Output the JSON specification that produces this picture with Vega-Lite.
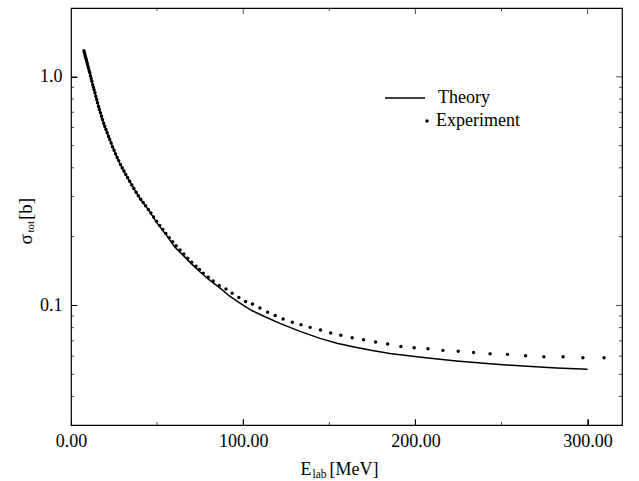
{
  "$schema": "https://vega.github.io/schema/vega-lite/v6.json",
  "autosize": {"type": "none"},
  "padding": {"left": 71, "top": 8, "right": 17, "bottom": 56},
  "width": 551,
  "height": 417,
  "background": "white",
  "config": {
    "view": {"stroke": "black", "strokeWidth": 1.2},
    "axis": {
      "grid": false,
      "domainOpacity": 0,
      "labelFont": "Liberation Serif",
      "titleFont": "Liberation Serif",
      "labelFontSize": 18,
      "titleFontSize": 19,
      "titleFontWeight": "normal",
      "labelColor": "black",
      "titleColor": "black",
      "tickColor": "black"
    },
    "legend": {
      "labelFont": "Liberation Serif",
      "labelFontSize": 18,
      "labelColor": "black",
      "padding": 0
    }
  },
  "datasets": {
    "yticks": [
      {"v": 0.04, "kind": "minor"}, {"v": 0.05, "kind": "minor"}, {"v": 0.06, "kind": "minor"},
      {"v": 0.07, "kind": "minor"}, {"v": 0.08, "kind": "minor"}, {"v": 0.09, "kind": "minor"},
      {"v": 0.1, "kind": "major"}, {"v": 0.2, "kind": "minor"}, {"v": 0.3, "kind": "minor"},
      {"v": 0.4, "kind": "minor"}, {"v": 0.5, "kind": "minor"}, {"v": 0.6, "kind": "minor"},
      {"v": 0.7, "kind": "minor"}, {"v": 0.8, "kind": "minor"}, {"v": 0.9, "kind": "minor"},
      {"v": 1, "kind": "major"}
    ],
    "xticks": [
      {"v": 50, "kind": "minor"}, {"v": 100, "kind": "major"}, {"v": 150, "kind": "minor"},
      {"v": 200, "kind": "major"}, {"v": 250, "kind": "minor"}, {"v": 300, "kind": "major"}
    ],
    "theory": [
      {"E": 8, "sigma": 1.255, "series": "Theory"},
      {"E": 9, "sigma": 1.18, "series": "Theory"},
      {"E": 10, "sigma": 1.10, "series": "Theory"},
      {"E": 11, "sigma": 1.035, "series": "Theory"},
      {"E": 12, "sigma": 0.96, "series": "Theory"},
      {"E": 13, "sigma": 0.90, "series": "Theory"},
      {"E": 14, "sigma": 0.846, "series": "Theory"},
      {"E": 16, "sigma": 0.742, "series": "Theory"},
      {"E": 18, "sigma": 0.66, "series": "Theory"},
      {"E": 20, "sigma": 0.595, "series": "Theory"},
      {"E": 22.5, "sigma": 0.532, "series": "Theory"},
      {"E": 25, "sigma": 0.477, "series": "Theory"},
      {"E": 28, "sigma": 0.423, "series": "Theory"},
      {"E": 31, "sigma": 0.384, "series": "Theory"},
      {"E": 34, "sigma": 0.35, "series": "Theory"},
      {"E": 37, "sigma": 0.32, "series": "Theory"},
      {"E": 40, "sigma": 0.294, "series": "Theory"},
      {"E": 45, "sigma": 0.262, "series": "Theory"},
      {"E": 50, "sigma": 0.229, "series": "Theory"},
      {"E": 55, "sigma": 0.205, "series": "Theory"},
      {"E": 60, "sigma": 0.181, "series": "Theory"},
      {"E": 65, "sigma": 0.166, "series": "Theory"},
      {"E": 70, "sigma": 0.152, "series": "Theory"},
      {"E": 75, "sigma": 0.14, "series": "Theory"},
      {"E": 80, "sigma": 0.13, "series": "Theory"},
      {"E": 86.6, "sigma": 0.119, "series": "Theory"},
      {"E": 92, "sigma": 0.11, "series": "Theory"},
      {"E": 98.1, "sigma": 0.1024, "series": "Theory"},
      {"E": 105, "sigma": 0.095, "series": "Theory"},
      {"E": 113, "sigma": 0.089, "series": "Theory"},
      {"E": 121.3, "sigma": 0.0835, "series": "Theory"},
      {"E": 133, "sigma": 0.077, "series": "Theory"},
      {"E": 144.6, "sigma": 0.0718, "series": "Theory"},
      {"E": 155, "sigma": 0.0682, "series": "Theory"},
      {"E": 165.9, "sigma": 0.0655, "series": "Theory"},
      {"E": 175, "sigma": 0.0635, "series": "Theory"},
      {"E": 185.2, "sigma": 0.0617, "series": "Theory"},
      {"E": 204.5, "sigma": 0.0592, "series": "Theory"},
      {"E": 223.9, "sigma": 0.0572, "series": "Theory"},
      {"E": 243.3, "sigma": 0.0556, "series": "Theory"},
      {"E": 262.6, "sigma": 0.0543, "series": "Theory"},
      {"E": 282, "sigma": 0.0533, "series": "Theory"},
      {"E": 300, "sigma": 0.0526, "series": "Theory"}
    ],
    "expt": [
      {"E": 7.5, "sigma": 1.3, "series": "Experiment"},
      {"E": 7.76, "sigma": 1.277, "series": "Experiment"},
      {"E": 8.03, "sigma": 1.254, "series": "Experiment"},
      {"E": 8.31, "sigma": 1.231, "series": "Experiment"},
      {"E": 8.6, "sigma": 1.209, "series": "Experiment"},
      {"E": 8.9, "sigma": 1.187, "series": "Experiment"},
      {"E": 9.22, "sigma": 1.162, "series": "Experiment"},
      {"E": 9.54, "sigma": 1.137, "series": "Experiment"},
      {"E": 9.87, "sigma": 1.111, "series": "Experiment"},
      {"E": 10.2, "sigma": 1.087, "series": "Experiment"},
      {"E": 10.6, "sigma": 1.06, "series": "Experiment"},
      {"E": 10.9, "sigma": 1.041, "series": "Experiment"},
      {"E": 11.3, "sigma": 1.012, "series": "Experiment"},
      {"E": 11.7, "sigma": 0.983, "series": "Experiment"},
      {"E": 12.1, "sigma": 0.956, "series": "Experiment"},
      {"E": 12.6, "sigma": 0.924, "series": "Experiment"},
      {"E": 13.0, "sigma": 0.9, "series": "Experiment"},
      {"E": 13.4, "sigma": 0.878, "series": "Experiment"},
      {"E": 13.9, "sigma": 0.851, "series": "Experiment"},
      {"E": 14.4, "sigma": 0.823, "series": "Experiment"},
      {"E": 14.9, "sigma": 0.796, "series": "Experiment"},
      {"E": 15.4, "sigma": 0.771, "series": "Experiment"},
      {"E": 16.0, "sigma": 0.742, "series": "Experiment"},
      {"E": 16.5, "sigma": 0.72, "series": "Experiment"},
      {"E": 17.1, "sigma": 0.696, "series": "Experiment"},
      {"E": 17.7, "sigma": 0.672, "series": "Experiment"},
      {"E": 18.3, "sigma": 0.651, "series": "Experiment"},
      {"E": 19.0, "sigma": 0.627, "series": "Experiment"},
      {"E": 19.6, "sigma": 0.608, "series": "Experiment"},
      {"E": 20.3, "sigma": 0.588, "series": "Experiment"},
      {"E": 21.0, "sigma": 0.569, "series": "Experiment"},
      {"E": 21.8, "sigma": 0.548, "series": "Experiment"},
      {"E": 22.5, "sigma": 0.532, "series": "Experiment"},
      {"E": 23.3, "sigma": 0.513, "series": "Experiment"},
      {"E": 24.1, "sigma": 0.495, "series": "Experiment"},
      {"E": 25.0, "sigma": 0.477, "series": "Experiment"},
      {"E": 25.9, "sigma": 0.46, "series": "Experiment"},
      {"E": 26.8, "sigma": 0.444, "series": "Experiment"},
      {"E": 27.7, "sigma": 0.43, "series": "Experiment"},
      {"E": 28.7, "sigma": 0.414, "series": "Experiment"},
      {"E": 29.7, "sigma": 0.4, "series": "Experiment"},
      {"E": 30.7, "sigma": 0.3875, "series": "Experiment"},
      {"E": 31.8, "sigma": 0.374, "series": "Experiment"},
      {"E": 32.9, "sigma": 0.3615, "series": "Experiment"},
      {"E": 34.1, "sigma": 0.349, "series": "Experiment"},
      {"E": 35.3, "sigma": 0.3365, "series": "Experiment"},
      {"E": 36.5, "sigma": 0.325, "series": "Experiment"},
      {"E": 37.8, "sigma": 0.313, "series": "Experiment"},
      {"E": 39.1, "sigma": 0.302, "series": "Experiment"},
      {"E": 40.5, "sigma": 0.2914, "series": "Experiment"},
      {"E": 41.9, "sigma": 0.2818, "series": "Experiment"},
      {"E": 43.3, "sigma": 0.2727, "series": "Experiment"},
      {"E": 44.9, "sigma": 0.263, "series": "Experiment"},
      {"E": 46.4, "sigma": 0.254, "series": "Experiment"},
      {"E": 48.0, "sigma": 0.2438, "series": "Experiment"},
      {"E": 49.7, "sigma": 0.2338, "series": "Experiment"},
      {"E": 51.5, "sigma": 0.224, "series": "Experiment"},
      {"E": 53.3, "sigma": 0.215, "series": "Experiment"},
      {"E": 55.1, "sigma": 0.2065, "series": "Experiment"},
      {"E": 57.1, "sigma": 0.198, "series": "Experiment"},
      {"E": 59.1, "sigma": 0.19, "series": "Experiment"},
      {"E": 61.1, "sigma": 0.1824, "series": "Experiment"},
      {"E": 63.3, "sigma": 0.1748, "series": "Experiment"},
      {"E": 65.5, "sigma": 0.1678, "series": "Experiment"},
      {"E": 67.8, "sigma": 0.161, "series": "Experiment"},
      {"E": 70.1, "sigma": 0.1546, "series": "Experiment"},
      {"E": 72.6, "sigma": 0.1483, "series": "Experiment"},
      {"E": 74.6, "sigma": 0.1435, "series": "Experiment"},
      {"E": 76.8, "sigma": 0.1385, "series": "Experiment"},
      {"E": 79.7, "sigma": 0.133, "series": "Experiment"},
      {"E": 82.6, "sigma": 0.128, "series": "Experiment"},
      {"E": 86.1, "sigma": 0.1223, "series": "Experiment"},
      {"E": 90.0, "sigma": 0.118, "series": "Experiment"},
      {"E": 93.6, "sigma": 0.113, "series": "Experiment"},
      {"E": 97.5, "sigma": 0.1083, "series": "Experiment"},
      {"E": 101.4, "sigma": 0.104, "series": "Experiment"},
      {"E": 105.4, "sigma": 0.1014, "series": "Experiment"},
      {"E": 109.7, "sigma": 0.0974, "series": "Experiment"},
      {"E": 114.2, "sigma": 0.0935, "series": "Experiment"},
      {"E": 118.6, "sigma": 0.0904, "series": "Experiment"},
      {"E": 123.2, "sigma": 0.0872, "series": "Experiment"},
      {"E": 128.5, "sigma": 0.0845, "series": "Experiment"},
      {"E": 133.6, "sigma": 0.0824, "series": "Experiment"},
      {"E": 138.9, "sigma": 0.0802, "series": "Experiment"},
      {"E": 144.9, "sigma": 0.0781, "series": "Experiment"},
      {"E": 150.8, "sigma": 0.0758, "series": "Experiment"},
      {"E": 156.7, "sigma": 0.074, "series": "Experiment"},
      {"E": 163.3, "sigma": 0.0723, "series": "Experiment"},
      {"E": 169.9, "sigma": 0.0708, "series": "Experiment"},
      {"E": 176.9, "sigma": 0.0692, "series": "Experiment"},
      {"E": 183.9, "sigma": 0.0678, "series": "Experiment"},
      {"E": 191.6, "sigma": 0.0662, "series": "Experiment"},
      {"E": 199.3, "sigma": 0.0653, "series": "Experiment"},
      {"E": 207.3, "sigma": 0.0647, "series": "Experiment"},
      {"E": 216.0, "sigma": 0.0636, "series": "Experiment"},
      {"E": 224.9, "sigma": 0.063, "series": "Experiment"},
      {"E": 233.8, "sigma": 0.0623, "series": "Experiment"},
      {"E": 243.4, "sigma": 0.0615, "series": "Experiment"},
      {"E": 253.5, "sigma": 0.0611, "series": "Experiment"},
      {"E": 264.0, "sigma": 0.0603, "series": "Experiment"},
      {"E": 274.6, "sigma": 0.0597, "series": "Experiment"},
      {"E": 285.8, "sigma": 0.0597, "series": "Experiment"},
      {"E": 297.3, "sigma": 0.0591, "series": "Experiment"},
      {"E": 309.6, "sigma": 0.0591, "series": "Experiment"}
    ]
  },
  "resolve": {"axis": {"x": "independent", "y": "independent"}},
  "layer": [
    {
      "data": {"name": "theory"},
      "mark": {"type": "line", "strokeWidth": 1.5, "interpolate": "linear", "color": "black"},
      "encoding": {
        "x": {
          "field": "E", "type": "quantitative",
          "scale": {"domain": [0, 320], "nice": false, "zero": false},
          "axis": {
            "orient": "bottom",
            "offset": -6,
            "values": [0, 100, 200, 300],
            "format": ".2f",
            "tickSize": 6,
            "labelPadding": 7,
            "labelFlush": false,
            "labelOverlap": false,
            "title": "E\u00a0\u00a0\u00a0\u00a0[MeV]",
            "titleFontSize": 18,
            "titleX": 268,
            "titleY": 55,
            "titleAlign": "center",
            "titleBaseline": "alphabetic"
          }
        },
        "y": {
          "field": "sigma", "type": "quantitative",
          "scale": {"type": "log", "domain": [0.03, 2], "nice": false},
          "axis": {
            "orient": "left",
            "offset": -6,
            "values": [0.1, 1],
            "labelExpr": "datum.value == 1 ? '1.0' : '0.1'",
            "tickSize": 6,
            "labelPadding": 9,
            "labelOverlap": false,
            "labelFlush": false,
            "title": "σ\u00a0\u00a0\u00a0[b]",
            "titleAngle": 270,
            "titleAlign": "left",
            "titleBaseline": "alphabetic",
            "titleX": -46,
            "titleY": 236
          }
        },
        "color": {
          "field": "series", "type": "nominal",
          "scale": {"domain": ["Theory"], "range": ["black"]},
          "legend": {
            "title": null,
            "orient": "none",
            "legendX": 313,
            "legendY": 69,
            "symbolType": "stroke",
            "symbolSize": 1600,
            "symbolStrokeWidth": 1.5,
            "labelOffset": 12
          }
        }
      }
    },
    {
      "data": {"name": "expt"},
      "mark": {"type": "point", "filled": true, "color": "black", "size": 12, "opacity": 1},
      "encoding": {
        "x": {
          "field": "E", "type": "quantitative",
          "scale": {"domain": [0, 320], "nice": false, "zero": false},
          "axis": null
        },
        "y": {
          "field": "sigma", "type": "quantitative",
          "scale": {"type": "log", "domain": [0.03, 2], "nice": false},
          "axis": null
        },
        "shape": {
          "field": "series", "type": "nominal",
          "scale": {"domain": ["Experiment"], "range": ["circle"]},
          "legend": {
            "title": null,
            "orient": "none",
            "legendX": 347,
            "legendY": 104,
            "symbolSize": 12,
            "symbolFillColor": "black",
            "symbolStrokeWidth": 0,
            "labelOffset": 0
          }
        }
      }
    },
    {
      "data": {"name": "expt"},
      "mark": {"type": "point", "filled": true, "opacity": 0, "size": 1},
      "encoding": {
        "x": {
          "field": "E", "type": "quantitative",
          "scale": {"domain": [0, 320], "nice": false, "zero": false},
          "axis": {
            "orient": "bottom",
            "values": [],
            "labels": false,
            "ticks": false,
            "title": "lab",
            "titleFontSize": 11.5,
            "titleX": 241,
            "titleY": 52,
            "titleAlign": "left",
            "titleBaseline": "alphabetic"
          }
        },
        "y": {
          "field": "sigma", "type": "quantitative",
          "scale": {"type": "log", "domain": [0.03, 2], "nice": false},
          "axis": {
            "orient": "left",
            "values": [],
            "labels": false,
            "ticks": false,
            "title": "tot",
            "titleFontSize": 11,
            "titleAngle": 270,
            "titleAlign": "left",
            "titleBaseline": "alphabetic",
            "titleX": -38,
            "titleY": 224
          }
        }
      }
    },
    {
      "data": {"name": "yticks"},
      "mark": {"type": "tick", "orient": "horizontal", "color": "black", "thickness": 1, "clip": true},
      "encoding": {
        "y": {"field": "v", "type": "quantitative", "scale": {"type": "log", "domain": [0.03, 2], "nice": false}, "axis": null},
        "x": {"datum": 0, "type": "quantitative", "scale": {"domain": [0, 320], "nice": false, "zero": false}, "axis": null},
        "size": {"field": "kind", "type": "ordinal", "scale": {"domain": ["major", "minor"], "range": [12, 6]}, "legend": null}
      }
    },
    {
      "data": {"name": "yticks"},
      "mark": {"type": "tick", "orient": "horizontal", "color": "black", "thickness": 1, "clip": true},
      "encoding": {
        "y": {"field": "v", "type": "quantitative", "scale": {"type": "log", "domain": [0.03, 2], "nice": false}, "axis": null},
        "x": {"datum": 320, "type": "quantitative", "scale": {"domain": [0, 320], "nice": false, "zero": false}, "axis": null},
        "size": {"field": "kind", "type": "ordinal", "scale": {"domain": ["major", "minor"], "range": [12, 6]}, "legend": null}
      }
    },
    {
      "data": {"name": "xticks"},
      "mark": {"type": "tick", "orient": "vertical", "color": "black", "thickness": 1, "clip": true},
      "encoding": {
        "x": {"field": "v", "type": "quantitative", "scale": {"domain": [0, 320], "nice": false, "zero": false}, "axis": null},
        "y": {"datum": 0.03, "type": "quantitative", "scale": {"type": "log", "domain": [0.03, 2], "nice": false}, "axis": null},
        "size": {"field": "kind", "type": "ordinal", "scale": {"domain": ["major", "minor"], "range": [12, 6]}, "legend": null}
      }
    },
    {
      "data": {"name": "xticks"},
      "mark": {"type": "tick", "orient": "vertical", "color": "black", "thickness": 1, "clip": true},
      "encoding": {
        "x": {"field": "v", "type": "quantitative", "scale": {"domain": [0, 320], "nice": false, "zero": false}, "axis": null},
        "y": {"datum": 2, "type": "quantitative", "scale": {"type": "log", "domain": [0.03, 2], "nice": false}, "axis": null},
        "size": {"field": "kind", "type": "ordinal", "scale": {"domain": ["major", "minor"], "range": [12, 6]}, "legend": null}
      }
    }
  ]
}
